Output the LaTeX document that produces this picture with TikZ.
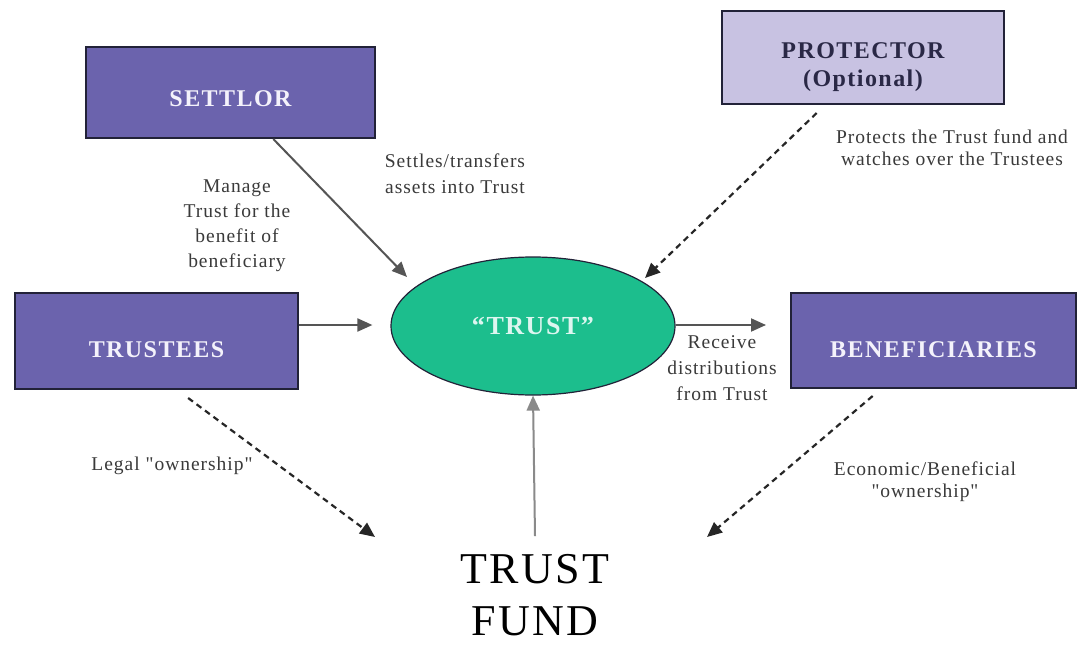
\documentclass[tikz,border=0pt]{standalone}
\usepackage{fontspec}
\setmainfont{Liberation Serif}
\newfontfamily\lblfam[LetterSpace=5]{Liberation Serif}
\newfontfamily\boxfam[LetterSpace=6]{Liberation Serif}
\newfontfamily\fundfam[LetterSpace=5]{Liberation Serif}
\usetikzlibrary{arrows.meta,shapes.geometric,calc}
\definecolor{boxfill}{HTML}{6B63AD}
\definecolor{boxtext}{HTML}{F4F2FB}
\definecolor{boxline}{HTML}{222238}
\definecolor{protfill}{HTML}{C8C2E2}
\definecolor{prottext}{HTML}{2A2846}
\definecolor{trustfill}{HTML}{1CBE8D}
\definecolor{trusttext}{HTML}{DDF6F0}
\definecolor{lbltext}{HTML}{3A3A3A}
\definecolor{arrgray}{HTML}{555555}
\definecolor{fundgray}{HTML}{8A8A8A}
\begin{document}
\begin{tikzpicture}[x=1pt,y=-1pt,
  rolebox/.style={draw=boxline, line width=2pt, fill=boxfill, text=boxtext,
    font=\boxfam\bfseries\fontsize{24}{28}\selectfont, inner sep=0pt, align=center},
  protbox/.style={rolebox, fill=protfill, text=prottext},
  trustnode/.style={ellipse, draw=boxline, line width=1.2pt, fill=trustfill, text=trusttext,
    font=\boxfam\bfseries\fontsize{26}{28}\selectfont, inner sep=0pt,
    minimum width=284pt, minimum height=138pt},
  lbl/.style={text=lbltext, align=center, inner sep=0pt},
  tip/.style={-{Triangle[length=15pt,width=13pt]}},
  solidarr/.style={tip, draw=arrgray, line width=2pt, color=arrgray, fill=black},
  dasharr/.style={tip, draw=black!85, line width=2.2pt, dash pattern=on 6pt off 4.5pt},
]
\useasboundingbox (0,0) rectangle (1084,645);
\fill[white] (0,0) rectangle (1084,645);

% boxes
\node[rolebox, minimum width=289pt, minimum height=91pt] (settlor) at (230.5,92.5)
  {\raisebox{-13.5pt}[0pt][0pt]{SETTLOR}};
\node[protbox, minimum width=282pt, minimum height=93pt] (protector) at (863,57.5)
  {\raisebox{-28.5pt}[0pt][0pt]{\begin{tabular}[b]{@{}c@{}}PROTECTOR\\(Optional)\end{tabular}}};
\node[rolebox, minimum width=283pt, minimum height=96pt] (trustees) at (156.5,341)
  {\raisebox{-16pt}[0pt][0pt]{TRUSTEES}};
\node[rolebox, minimum width=285pt, minimum height=95pt] (benef) at (933.5,340.5)
  {\raisebox{-16.5pt}[0pt][0pt]{BENEFICIARIES}};
\node[trustnode] (trust) at (533,326) {“TRUST”};
\node[font=\fundfam\fontsize{44}{52}\selectfont, text=black, align=center, inner sep=0pt] (fund) at (535,595) {TRUST\\FUND};

% free ends of connectors
\coordinate (setIn) at ($(trust.center)+(-126,-49)$);
\coordinate (protIn) at ($(trust.center)+(112,-48)$);
\coordinate (legalEnd) at (375,537);
\coordinate (econEnd) at (707,537);

% connectors
\draw[solidarr] ($(settlor.south west)!0.647!(settlor.south east)$) -- (setIn);
\draw[dasharr] ($(protector.south west)!0.337!(protector.south east)+(0,8)$) -- (protIn);
\draw[solidarr] ($(trustees.east)+(0,-16)$) -- ($(trust.west)+(-18,-1)$);
\draw[solidarr] ($(trust.east)+(0,-1)$) -- ($(benef.west)+(-24,-15.5)$);
\draw[dasharr] ($(trustees.south west)!0.611!(trustees.south east)+(0,8)$) -- (legalEnd);
\draw[dasharr] ($(benef.south west)!0.288!(benef.south east)+(0,7)$) -- (econEnd);
\draw[solidarr, draw=fundgray] ($(fund.north)+(0,-18)$) -- (trust.south);

% labels
\begin{scope}[every node/.append style={font=\lblfam\fontsize{19.5}{25}\selectfont}]
\node[lbl] (lblSettle) at (455,174) {Settles/transfers\\[1pt]assets into Trust};
\node[lbl] (lblManage) at (237,226) {Manage\\Trust for the\\benefit of\\beneficiary};
\node[lbl] (lblProtect) at (952,148) {Protects the Trust fund and\\[-3pt]watches over the Trustees};
\node[lbl] (lblReceive) at (722,368) {Receive\\[1pt]distributions\\[1pt]from Trust};
\node[lbl] (lblLegal) at (172,466) {Legal "ownership"};
\node[lbl] (lblEcon) at (925,482) {Economic/Beneficial\\[-3pt]"ownership"};
\end{scope}
\end{tikzpicture}
\end{document}
